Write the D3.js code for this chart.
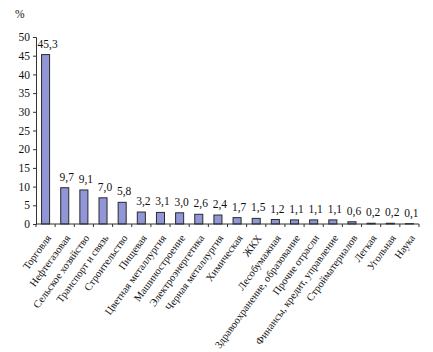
<!DOCTYPE html>
<html>
<head>
<meta charset="utf-8">
<script src="https://cdn.jsdelivr.net/npm/d3@7"></script>
<style>
  body { margin: 0; background: #fff; }
  svg text { font-family: "Liberation Serif", "Times New Roman", serif; fill: #111; }
</style>
</head>
<body>
<div id="chart"></div>
<script>
const categories = ["Торговля", "Нефтегазовая", "Сельское хозяйство", "Транспорт и связь",
  "Строительство", "Пищевая", "Цветная металлургия", "Машиностроение", "Электроэнергетика",
  "Черная металлургия", "Химическая", "ЖКХ", "Лесобумажная", "Здравоохранение, образование",
  "Прочие отрасли", "Финансы, кредит, управление", "Стройматериалов", "Легкая", "Угольная", "Наука"];
const values = [45.3, 9.7, 9.1, 7.0, 5.8, 3.2, 3.1, 3.0, 2.6, 2.4, 1.7, 1.5, 1.2, 1.1, 1.1, 1.1, 0.6, 0.2, 0.2, 0.1];
const yTicks = [0, 5, 10, 15, 20, 25, 30, 35, 40, 45, 50];

const width = 433, height = 352;
const margin = {left: 36, right: 14, top: 37, bottom: 128};

const svg = d3.select("#chart").append("svg")
  .attr("width", width).attr("height", height);

const x = d3.scaleBand().domain(categories)
  .range([margin.left, width - margin.right])
  .paddingInner(0.58).paddingOuter(0.29);

const y = d3.scaleLinear().domain([0, 50])
  .range([height - margin.bottom, margin.top]);

const fmt = v => v.toFixed(1).replace(".", ",");

// bars
svg.selectAll("rect.bar").data(values).enter().append("rect")
  .attr("class", "bar")
  .attr("x", (d, i) => x(categories[i]))
  .attr("y", d => y(d))
  .attr("width", x.bandwidth())
  .attr("height", d => y(0) - y(d))
  .attr("fill", "#9096d6")
  .attr("stroke", "#2a2a2a")
  .attr("stroke-width", 1);

// value labels
svg.selectAll("text.val").data(values).enter().append("text")
  .attr("class", "val")
  .attr("x", (d, i) => x(categories[i]) + x.bandwidth() / 2 + 2)
  .attr("y", d => y(d) - 7)
  .attr("text-anchor", "middle")
  .style("font-size", "11.5px")
  .text(d => fmt(d));

// y axis
const yAxis = svg.append("g")
  .attr("transform", "translate(" + margin.left + ",0)")
  .call(d3.axisLeft(y).tickValues(yTicks).tickSize(3).tickSizeOuter(3));
yAxis.select(".domain").attr("stroke", "#333");
yAxis.selectAll(".tick line").attr("stroke", "#333");
yAxis.selectAll(".tick text").style("font-size", "11.5px").attr("x", -6);

// x axis with ticks between categories
const xStep = (width - margin.right - margin.left) / categories.length;
const xAxis = svg.append("g");
xAxis.append("line")
  .attr("x1", margin.left).attr("x2", width - margin.right)
  .attr("y1", y(0)).attr("y2", y(0))
  .attr("stroke", "#333");
xAxis.selectAll("line.tk").data(d3.range(categories.length + 1)).enter().append("line")
  .attr("class", "tk")
  .attr("x1", i => margin.left + i * xStep).attr("x2", i => margin.left + i * xStep)
  .attr("y1", y(0)).attr("y2", y(0) + 3)
  .attr("stroke", "#333");

// category labels
svg.selectAll("text.cat").data(categories).enter().append("text")
  .attr("class", "cat")
  .attr("text-anchor", "end")
  .attr("transform", d => "translate(" + (x(d) + x.bandwidth() / 2 + 6) + "," + (y(0) + 14) + ") rotate(-54)")
  .style("font-size", "10.5px")
  .text(d => d);

// unit label
svg.append("text")
  .attr("x", 15).attr("y", 18)
  .style("font-size", "11.5px")
  .text("%");
</script>
</body>
</html>
